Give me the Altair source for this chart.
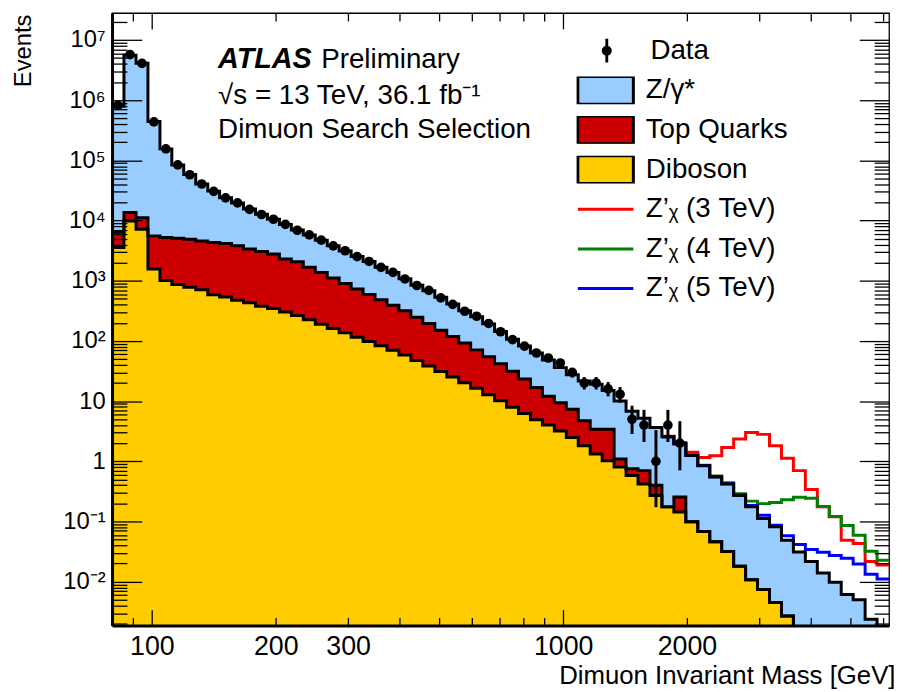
import altair as alt
import pandas as pd

FONT = "Liberation Sans"
FLOOR = 1e-4  # stands in for empty bins (below the axis minimum)

# ---- binning (GeV), 65 log-spaced bins ----
bin_edges = [80.0, 85.5, 91.5, 97.8, 104.6, 111.8, 119.5, 127.8, 136.7, 146.1,
             156.2, 167.0, 178.6, 191.0, 204.2, 218.3, 233.4, 249.6, 266.9, 285.3,
             305.1, 326.2, 348.8, 372.9, 398.7, 426.3, 455.8, 487.4, 521.1, 557.2,
             595.8, 637.0, 681.1, 728.2, 778.6, 832.5, 890.2, 951.8, 1017.7, 1088.1,
             1163.4, 1243.9, 1330.0, 1422.1, 1520.5, 1625.8, 1738.3, 1858.6, 1987.3, 2124.8,
             2271.9, 2429.1, 2597.3, 2777.0, 2969.2, 3174.8, 3394.5, 3629.4, 3880.7, 4149.3,
             4436.5, 4743.5, 5071.9, 5422.9, 5798.3, 6200.0]

# ---- data (events per bin) ----
data_events = [820000, 5690000, 4080000, 435000, 155000, 84300, 57700, 40400, 30600, 23800,
               19600, 15300, 12600, 10500, 8650, 6900, 5770, 4720, 3800, 3150,
               2510, 2090, 1670, 1380, 1070, 834, 690, 520, 405, 311,
               257, 195, 142, 105, 82, 63, 52, 43, 30, 20,
               20, 16, 13, 5, 4, 1, 4, 2, 0, 0,
               0, 0, 0, 0, 0, 0, 0, 0, 0, 0,
               0, 0, 0, 0, 0]
err_first_bin = 36
data_err_lo = [45, 36.5, 24.6, 15.6, 15.6, 12.0, 9.4, 2.84, 2.09, 0.173, 2.09, 0.708]
data_err_hi = [59.5, 50.5, 35.5, 25.1, 25.1, 20.7, 17.1, 8.38, 7.16, 3.30, 7.16, 4.64]

# ---- stacked background (top edge of each stack layer) ----
total_bkg = [800000, 5600000, 4100000, 440000, 155000, 84000, 58000, 40500, 30800, 24000,
             19500, 15500, 12700, 10500, 8600, 6950, 5750, 4700, 3820, 3120,
             2520, 2080, 1680, 1370, 1080, 840, 680, 530, 410, 318,
             252, 192, 143, 107, 82, 63, 48, 36, 27.5, 21.5,
             19, 15, 10, 6.8, 5.2, 3.65, 2.55, 1.95, 1.25, 0.84,
             0.55, 0.42, 0.271, 0.175, 0.112, 0.082, 0.049, 0.031, 0.0217, 0.0139,
             0.0098, 0.0061, 0.005, 0.00237, 0]
top_plus_diboson = [6460, 13600, 11100, 5560, 5210, 5090, 4900, 4590, 4310, 4150,
                    3800, 3360, 3060, 2770, 2300, 2070, 1680, 1365, 1108, 900,
                    730, 593, 481, 390, 317, 248, 194, 151, 118, 92.5,
                    71, 54.4, 41.7, 31.4, 23.2, 16.8, 12.0, 9.4, 7.3, 4.7,
                    3.4, 3.4, 1.09, 0.75, 0.70, 0.40, 0.175, 0.255, 0.099, 0.068,
                    0.046, 0.0317, 0.018, 0.0108, 0.0074, 0.0045, 0.0027, 0, 0, 0,
                    0, 0, 0, 0, 0]
diboson = [3560, 9800, 7160, 1570, 1007, 865, 781, 708, 586, 535,
           472, 432, 376, 344, 303, 263, 224, 189, 161, 136,
           115, 97.7, 83, 70, 58.3, 47.2, 38.3, 31.1, 25.1, 20.2,
           16.4, 12.8, 10.1, 7.9, 6.2, 4.9, 4.0, 3.19, 2.48, 1.81,
           1.32, 1.02, 0.80, 0.58, 0.42, 0.27, 0.175, 0.144, 0.099, 0.068,
           0.046, 0.0317, 0.018, 0.0108, 0.0074, 0.0045, 0.0027, 0, 0, 0,
           0, 0, 0, 0, 0]

# ---- Z' signals (background + signal), starting at bin 46 ----
signal_first_bin = 46
zprime_3tev = [2.6, 2.05, 1.41, 1.16, 1.24, 1.70, 2.34, 3.0, 2.8, 1.81,
               1.12, 0.70, 0.34, 0.175, 0.12, 0.049, 0.043, 0.0217, 0.019]
zprime_4tev = [2.56, 1.96, 1.27, 0.86, 0.57, 0.44, 0.289, 0.218, 0.198, 0.206,
               0.230, 0.253, 0.244, 0.177, 0.121, 0.086, 0.059, 0.032, 0.0228]
zprime_5tev = [2.56, 1.96, 1.26, 0.85, 0.555, 0.425, 0.277, 0.184, 0.127, 0.087,
               0.058, 0.0415, 0.0343, 0.0308, 0.0272, 0.0246, 0.0196, 0.0133, 0.0111]

process_names = ["Z/γ*", "Top Quarks", "Diboson"]
process_colors = ["#99ccff", "#cc0000", "#ffcc00"]
signal_names = ["Z’ᵪ (3 TeV)", "Z’ᵪ (4 TeV)", "Z’ᵪ (5 TeV)"]
signal_colors = ["#ff0000", "#007f00", "#0000ff"]

x_label_values = [100, 200, 300, 1000, 2000]
x_tick_values = [90, 100, 200, 300, 400, 500, 600, 700, 800, 900, 1000,
                 2000, 3000, 4000, 5000, 6000]
y_label_values = [1e-2, 1e-1, 1, 10, 1e2, 1e3, 1e4, 1e5, 1e6, 1e7]
y_tick_values = [m * 10.0 ** e for e in range(-3, 8) for m in range(1, 10)
                 if 0.00187 <= m * 10.0 ** e <= 2.8e7]

W, H = 784, 618
x_scale = alt.Scale(type="log", domain=[80, 6200], nice=False)
y_scale = alt.Scale(type="log", domain=[0.00187, 2.8e7], nice=False)

MAJOR = "abs(log(datum.value)/LN10 - round(log(datum.value)/LN10)) < 0.001"


def step_frame(values, first_bin, **extra):
    rows = []
    for i, v in enumerate(values):
        rows.append({"mass": bin_edges[first_bin + i], "events": v if v > 0 else FLOOR})
    rows.append({"mass": bin_edges[first_bin + len(values)], "events": rows[-1]["events"]})
    df = pd.DataFrame(rows)
    df["base"] = FLOOR
    for k, val in extra.items():
        df[k] = val
    return df


def tick_axis(orient, values, major, minor):
    return alt.Axis(orient=orient, offset=-(W if orient in ("left", "right") else H),
                    values=values, labels=False, domain=False, ticks=True,
                    tickColor="black", tickWidth=1.3, zindex=2,
                    tickSize={"condition": {"test": MAJOR, "value": major}, "value": minor},
                    title=None, grid=False)


y_label_axis = alt.Axis(
    orient="left", values=y_label_values, ticks=False, domain=True, zindex=2,
    domainColor="black", domainWidth=3, grid=False,
    labelExpr="['10⁻²','10⁻¹','1','10','10²','10³','10⁴','10⁵','10⁶','10⁷'][round(log(datum.value)/LN10)+2]",
    labelFont=FONT, labelFontSize=24, labelColor="black", labelPadding=7,
    title="Events", titleFont=FONT, titleFontSize=24, titleFontWeight="normal",
    titleColor="black", titleAngle=270, titleAlign="right", titleBaseline="middle",
    titleX=-89, titleY=1)

x_label_axis = alt.Axis(
    orient="bottom", values=x_label_values, format="d", ticks=False, domain=True, zindex=2,
    domainColor="black", domainWidth=3, grid=False, labelOverlap=False,
    labelFont=FONT, labelFontSize=27, labelColor="black", labelPadding=8,
    title="Dimuon Invariant Mass [GeV]", titleFont=FONT, titleFontSize=26,
    titleFontWeight="normal", titleColor="black", titleAnchor="end",
    titleAlign="right", titleBaseline="alphabetic", titleX=W + 6, titleY=59)

legend_common = dict(orient="none", title=None, padding=0, clipHeight=28, rowPadding=12,
                     labelFont=FONT, labelFontSize=28, labelColor="black", labelLimit=400)

RECT = "M-1,-0.5H1V0.5H-1Z"
DATA_SYMBOL = ("M-0.12,-1H0.12V1H-0.12Z"
               "M0.42,0A0.42,0.42,0,1,1,-0.42,0A0.42,0.42,0,1,1,0.42,0Z")

fill_legend = alt.Legend(legendX=468.5, legendY=64, symbolType=RECT, symbolSize=3136,
                         symbolStrokeColor="black", symbolStrokeWidth=3, symbolOpacity=1,
                         labelOffset=11, **legend_common)
sig_legend = alt.Legend(legendX=468.5, legendY=184, symbolType="stroke", symbolSize=3136,
                        symbolStrokeWidth=3, labelOffset=11, **legend_common)
data_legend = alt.Legend(legendX=485.2, legendY=24, symbolType=DATA_SYMBOL, symbolSize=576,
                         symbolFillColor="black", symbolStrokeColor="black",
                         symbolStrokeWidth=0, labelOffset=30, **legend_common)

fill_scale = alt.Scale(domain=process_names, range=process_colors)
sig_scale = alt.Scale(domain=signal_names, range=signal_colors)

stack_tops = [total_bkg, top_plus_diboson, diboson]
x_axes = [x_label_axis, tick_axis("top", x_tick_values, 16, 8), tick_axis("bottom", x_tick_values, 16, 8)]
y_axes = [y_label_axis, tick_axis("right", y_tick_values, 30, 15), tick_axis("left", y_tick_values, 30, 15)]

layers = []
for name, tops, xa, ya in zip(process_names, stack_tops, x_axes, y_axes):
    layers.append(
        alt.Chart(step_frame(tops, 0, process=name))
        .mark_area(interpolate="step-after", clip=True, opacity=1)
        .encode(x=alt.X("mass:Q", scale=x_scale, axis=xa),
                y=alt.Y("events:Q", scale=y_scale, axis=ya),
                y2=alt.Y2("base:Q"),
                fill=alt.Fill("process:N", scale=fill_scale, legend=fill_legend))
    )

for name, vals in zip(signal_names, [zprime_3tev, zprime_4tev, zprime_5tev]):
    layers.append(
        alt.Chart(step_frame(vals, signal_first_bin, signal=name))
        .mark_line(interpolate="step-after", clip=True, strokeWidth=3)
        .encode(x=alt.X("mass:Q", scale=x_scale, axis=None),
                y=alt.Y("events:Q", scale=y_scale, axis=None),
                stroke=alt.Stroke("signal:N", scale=sig_scale, legend=sig_legend))
    )

for tops in stack_tops:
    layers.append(
        alt.Chart(step_frame(tops, 0))
        .mark_line(interpolate="step-after", clip=True, strokeWidth=3, color="black")
        .encode(x=alt.X("mass:Q", scale=x_scale, axis=None),
                y=alt.Y("events:Q", scale=y_scale, axis=None))
    )

centers = [(bin_edges[k] * bin_edges[k + 1]) ** 0.5 for k in range(len(data_events))]
err_df = pd.DataFrame({
    "mass": centers[err_first_bin:err_first_bin + len(data_err_lo)],
    "lo": data_err_lo, "hi": data_err_hi})
pts_df = pd.DataFrame({"mass": centers, "events": data_events})
pts_df = pts_df[pts_df["events"] > 0].assign(kind="Data")

layers.append(
    alt.Chart(err_df).mark_rule(color="black", strokeWidth=3, clip=True)
    .encode(x=alt.X("mass:Q", scale=x_scale, axis=None),
            y=alt.Y("lo:Q", scale=y_scale, axis=None), y2="hi:Q")
)
layers.append(
    alt.Chart(pts_df).mark_point(filled=True, size=95, color="black", clip=True)
    .encode(x=alt.X("mass:Q", scale=x_scale, axis=None),
            y=alt.Y("events:Q", scale=y_scale, axis=None),
            opacity=alt.Opacity("kind:N", scale=alt.Scale(domain=["Data"], range=[1]),
                                legend=data_legend))
)

# ---- annotation text ----
annotations = [
    ("ATLAS", 107, 55, "bold", "italic", 29),
    ("Preliminary", 211, 55, "normal", "normal", 28),
    ("√s = 13 TeV, 36.1 fb⁻¹", 107, 91.5, "normal", "normal", 28),
    ("Dimuon Search Selection", 107, 126.5, "normal", "normal", 28),
]
for txt, px, py, weight, style, size in annotations:
    layers.append(
        alt.Chart(pd.DataFrame({"t": [txt]}))
        .mark_text(font=FONT, fontSize=size, fontWeight=weight, fontStyle=style,
                   align="left", baseline="alphabetic", color="black")
        .encode(text="t:N", x=alt.value(px), y=alt.value(py))
    )

chart = (
    alt.layer(*layers)
    .resolve_axis(x="independent", y="independent")
    .properties(width=W, height=H,
                autosize=alt.AutoSizeParams(type="none"),
                padding={"left": 105, "top": 2, "right": 5, "bottom": 64},
                background="white")
    .configure_view(stroke="black", strokeWidth=1.3)
    .configure_axis(grid=False)
)

chart.save("out.html", embed_options={"renderer": "svg", "actions": False})
